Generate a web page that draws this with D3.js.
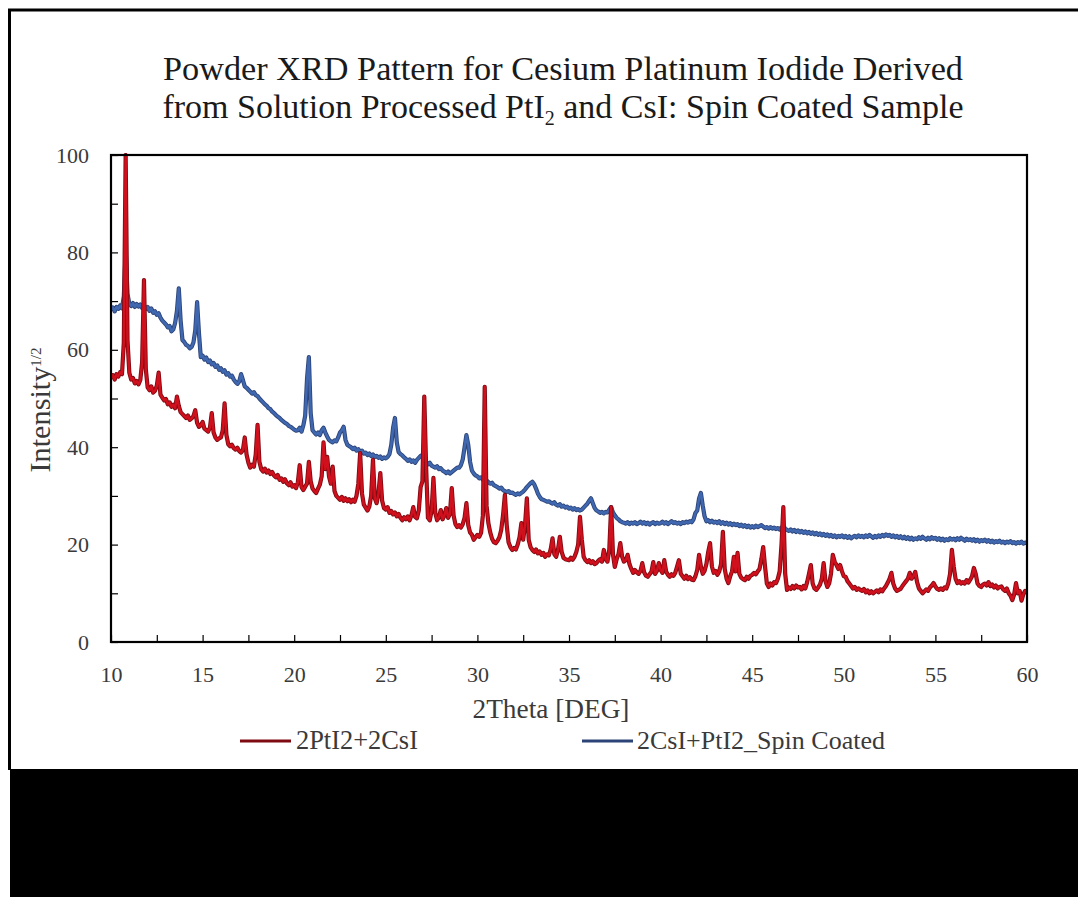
<!DOCTYPE html>
<html><head><meta charset="utf-8">
<script src="https://cdn.jsdelivr.net/npm/d3@7"></script>
<style>
body{margin:0;background:#fff;}
svg{display:block;}
text{font-family:"Liberation Serif","Times New Roman",serif;}
</style>
</head><body>
<svg id="chart" width="1078" height="897"></svg>
<script>
const titleLine1 = "Powder XRD Pattern for Cesium Platinum Iodide Derived";
const titleLine2 = ["from Solution Processed PtI", "2", " and CsI: Spin Coated Sample"];
const xAxisTitle = "2Theta [DEG]";
const yAxisTitle = ["Intensity", "1/2"];
const xTickLabels = [10, 15, 20, 25, 30, 35, 40, 45, 50, 55, 60];
const yTickLabels = [0, 20, 40, 60, 80, 100];
const seriesNames = ["2PtI2+2CsI", "2CsI+PtI2_Spin Coated"];
const seriesColors = ["#d0101c", "#4068b0"];
const seriesEdges = ["#7e0a12", "#2c4478"];
const thetaStart = 10, thetaStep = 0.1;

// 2PtI2+2CsI, 2theta = 10.0 ... 60.0 step 0.1
const redValues = [
54.2,54.8,53.9,55.0,54.5,55.4,55.0,61.5,100,62.0,
55.3,53.9,54.2,53.1,53.6,52.9,53.8,57.5,74.3,56.0,
52.3,51.7,52.5,51.2,51.6,52.6,55.3,50.8,50.2,49.6,
49.9,48.8,49.2,48.3,48.7,48.0,50.4,48.5,47.2,46.8,
46.4,46.0,46.5,45.6,45.9,46.4,47.6,45.0,44.2,44.5,
45.2,43.8,43.5,43.2,44.0,47.0,43.0,42.0,41.5,41.8,
42.0,43.5,49.0,42.5,40.6,40.2,40.5,39.8,39.5,39.9,
39.2,38.9,39.4,42.0,38.5,36.8,35.8,36.4,36.0,38.5,
44.6,37.0,35.5,35.0,35.6,34.8,35.2,34.5,34.9,34.2,
33.8,34.3,33.3,33.6,32.9,33.4,32.6,32.2,32.8,31.9,
32.2,31.6,32.8,36.3,31.8,31.2,31.9,32.5,37.0,33.0,
31.5,31.0,30.6,31.5,32.3,34.0,41.0,35.5,38.0,34.0,
32.5,36.0,31.0,30.0,29.6,29.2,29.8,29.0,29.5,28.9,
29.3,28.7,29.2,28.8,30.0,32.5,38.8,30.5,28.2,27.6,
27.0,27.8,30.0,37.4,29.5,28.5,30.5,34.7,29.0,27.5,
27.2,27.7,26.5,26.9,26.2,26.6,25.8,26.3,25.5,25.0,
25.6,25.2,25.8,25.0,26.0,27.7,25.7,25.4,27.0,31.8,
33.0,50.4,36.0,25.5,25.0,27.0,33.7,26.5,25.0,25.6,
27.1,25.2,26.0,27.5,25.5,26.3,31.6,26.0,24.2,23.6,
24.0,23.5,24.2,25.5,28.5,24.0,22.5,22.0,21.0,21.5,
22.0,21.6,22.4,26.0,52.4,28.0,24.4,22.5,21.2,20.5,
20.3,20.8,21.5,23.0,26.0,30.2,24.0,20.5,19.5,18.9,
19.3,19.0,20.0,21.5,24.4,21.0,24.0,29.5,21.0,19.5,
18.9,18.5,19.0,18.2,18.6,17.9,18.3,17.5,18.0,17.8,
19.0,21.3,18.0,17.5,19.0,21.6,18.5,17.3,17.0,16.9,
16.8,17.3,16.9,17.5,18.5,20.0,25.7,21.0,17.5,16.8,
16.4,16.8,16.2,16.6,16.0,16.2,16.7,17.0,16.5,18.9,
17.0,16.5,19.0,27.7,18.0,15.4,17.0,18.0,20.3,17.5,
16.5,16.8,17.9,16.0,15.0,14.2,14.8,14.3,14.0,14.6,
16.2,14.3,13.6,13.4,13.9,14.4,16.4,14.0,14.6,16.2,
14.8,14.2,16.8,14.5,13.8,13.4,13.9,13.6,14.2,15.5,
16.8,14.0,13.5,13.0,13.6,12.9,13.3,12.8,12.7,13.5,
14.8,17.9,15.5,14.0,14.6,16.0,18.5,20.3,15.5,14.2,
14.6,13.8,14.5,16.0,22.6,15.0,13.0,12.1,13.5,14.5,
17.5,14.5,18.3,14.0,13.2,12.9,12.7,13.4,13.0,13.6,
13.8,14.2,13.9,14.5,15.0,17.0,19.5,15.5,12.0,11.3,
12.0,11.6,12.3,12.1,13.0,14.5,20.0,27.7,14.0,10.7,
11.2,10.9,11.5,11.0,11.6,11.2,11.3,10.8,11.5,11.0,
12.3,14.0,15.8,12.0,11.0,10.7,11.2,11.8,13.0,16.2,
12.5,11.3,12.0,14.0,17.9,16.5,15.8,15.0,15.8,14.5,
13.5,13.4,12.5,12.0,11.5,11.0,11.3,10.7,11.0,10.7,
10.5,10.9,10.2,10.6,10.0,10.4,10.0,10.3,10.6,10.2,
10.8,10.4,11.0,11.5,12.2,13.0,14.2,12.0,11.0,10.5,
10.7,10.9,11.5,12.0,12.5,13.0,14.2,13.0,13.5,14.4,
12.3,11.0,10.5,10.0,10.4,10.8,10.5,11.2,11.6,12.1,
11.4,10.9,10.7,11.0,10.7,11.2,11.0,12.0,14.0,18.9,
15.5,13.0,12.1,12.5,12.0,12.3,12.0,12.7,12.2,12.8,
13.5,15.2,14.0,12.0,11.5,11.3,11.8,12.0,11.6,12.3,
11.5,11.8,11.2,11.6,11.0,11.3,11.4,10.8,10.5,11.0,
10.0,9.5,8.6,9.8,12.1,10.0,10.5,8.5,9.8,10.5,
10.3];

// 2CsI+PtI2_Spin Coated, 2theta = 10.0 ... 60.0 step 0.1
const blueValues = [
68.2,68.7,67.9,68.8,68.4,69.1,68.5,71.0,80.5,71.5,
69.5,69.0,69.6,68.8,69.4,68.9,69.3,68.6,69.0,68.4,
68.8,68.0,68.5,67.6,67.9,67.2,67.5,66.6,66.0,65.6,
65.2,64.6,64.9,63.8,64.2,65.5,68.0,72.6,66.0,62.0,
61.6,61.0,60.8,60.3,60.6,61.5,64.0,69.8,63.5,58.5,
58.8,58.0,58.4,57.5,57.8,57.0,57.3,56.5,56.8,55.9,
56.2,55.5,55.8,54.9,55.2,54.5,54.7,53.9,53.4,53.0,
53.5,55.0,53.8,52.5,52.2,51.8,51.4,51.0,51.3,50.7,
50.5,50.0,49.6,49.2,48.8,48.5,48.0,47.8,47.3,47.0,
46.6,46.3,46.0,45.6,45.3,45.0,44.8,44.4,44.2,43.9,
43.6,43.4,43.5,44.0,43.2,44.5,46.5,54.0,58.5,47.0,
43.5,43.0,42.6,43.0,42.5,43.5,44.0,43.0,42.2,41.5,
41.2,41.0,41.4,41.2,42.0,43.0,43.5,44.2,41.5,40.5,
40.2,40.0,39.6,39.9,39.3,39.6,39.0,39.3,38.7,38.9,
38.4,38.7,38.2,38.5,38.0,38.2,37.8,38.1,37.6,37.9,
37.7,38.0,38.6,40.5,44.0,46.0,41.0,39.0,38.6,38.3,
37.9,37.6,37.2,37.5,37.0,37.3,36.8,37.4,37.8,38.2,
38.4,38.0,37.0,36.5,36.8,36.2,36.0,35.8,36.1,35.5,
35.7,35.2,35.0,34.7,35.0,34.6,34.9,35.2,35.5,35.8,
35.8,36.3,37.5,40.0,42.5,40.5,37.0,35.2,34.6,34.2,
34.0,33.6,33.8,33.3,33.0,33.2,32.8,32.5,32.7,32.2,
32.0,31.8,31.5,31.7,31.2,31.0,30.8,31.0,30.6,30.7,
30.4,30.2,30.5,30.3,30.6,30.9,31.3,31.8,32.2,32.6,
32.9,32.4,31.5,30.5,29.8,29.3,29.2,29.0,28.8,28.9,
28.6,28.4,28.7,28.2,28.0,28.3,27.8,28.0,27.6,27.8,
27.4,27.6,27.2,27.5,27.1,27.3,27.0,27.2,27.6,28.0,
28.4,29.0,29.5,28.5,27.5,27.0,26.8,26.5,26.7,26.4,
26.7,26.6,27.2,27.7,26.6,26.0,25.5,25.2,24.8,24.6,
24.5,24.3,24.6,24.2,24.5,24.3,24.6,24.2,24.4,24.7,
24.3,24.6,24.2,24.5,24.1,24.4,24.6,24.2,24.5,24.3,
24.4,24.7,24.3,24.6,24.2,24.5,24.8,24.4,24.6,24.3,
24.5,24.2,24.6,24.4,24.7,24.5,24.8,24.6,25.2,26.5,
27.0,29.5,30.6,28.0,25.8,24.8,25.0,24.6,24.9,24.5,
24.7,24.4,24.8,24.3,24.6,24.2,24.5,24.1,24.4,24.0,
24.3,24.0,24.2,23.8,24.1,23.7,24.0,23.6,23.9,23.5,
23.8,23.5,23.9,23.6,23.8,24.0,23.7,23.4,23.6,23.3,
23.6,23.3,23.5,23.2,23.4,23.1,23.5,23.8,23.3,23.0,
22.8,23.1,22.7,23.0,22.6,22.9,22.5,22.8,22.4,22.7,
22.3,22.6,22.2,22.5,22.1,22.4,22.0,22.3,21.9,22.2,
21.8,22.1,21.7,22.0,21.6,21.9,21.5,21.8,21.6,21.9,
21.5,21.8,21.4,21.7,21.3,21.6,21.8,21.5,21.9,21.6,
21.8,21.5,21.9,21.6,22.0,21.7,21.4,21.8,21.5,21.9,
21.6,22.0,21.7,22.1,21.8,22.0,21.6,21.9,21.5,21.8,
21.4,21.7,21.3,21.6,21.2,21.5,21.1,21.4,21.0,21.3,
21.1,21.5,21.2,21.6,21.3,21.0,21.4,21.1,21.5,21.2,
21.4,21.0,21.3,20.9,21.2,20.8,21.1,20.9,21.3,21.0,
21.2,20.9,21.3,21.0,21.4,21.1,20.8,21.2,20.9,21.1,
20.8,21.1,20.7,21.0,20.6,20.9,20.7,21.0,20.6,20.9,
20.5,20.8,20.4,20.7,20.5,20.8,20.4,20.6,20.3,20.6,
20.4,20.7,20.3,20.5,20.2,20.5,20.3,20.6,20.2,20.4,
20.3];

const svg = d3.select("#chart");
const W = 1078, H = 897;
const plot = {left: 111, top: 155, right: 1027, bottom: 642};

// page frame
svg.append("rect").attr("x", 0).attr("y", 0).attr("width", W).attr("height", H).attr("fill", "#fff");
svg.append("line").attr("x1", 8).attr("x2", W).attr("y1", 10).attr("y2", 10).attr("stroke", "#000").attr("stroke-width", 3);
svg.append("line").attr("x1", 9.5).attr("x2", 9.5).attr("y1", 9).attr("y2", 770).attr("stroke", "#000").attr("stroke-width", 3);
svg.append("rect").attr("x", 10).attr("y", 769).attr("width", W - 10).attr("height", H - 769).attr("fill", "#000");

const x = d3.scaleLinear().domain([10, 60]).range([plot.left, plot.right]);
const y = d3.scaleLinear().domain([0, 100]).range([plot.bottom, plot.top]);

const xAxis = d3.axisBottom(x)
  .tickValues(d3.range(10, 60.01, 2.5))
  .tickSizeInner(-7).tickSizeOuter(0).tickPadding(24)
  .tickFormat(d => xTickLabels.includes(d) ? d : "");
const gx = svg.append("g").attr("transform", `translate(0,${plot.bottom})`).call(xAxis);
gx.select(".domain").remove();
gx.selectAll("line").attr("stroke", "#000").attr("stroke-width", 1.2);
gx.selectAll("text").attr("font-size", 22).attr("fill", "#3a3a3a")
  .attr("font-family", "Liberation Serif, serif");

const yAxis = d3.axisLeft(y)
  .tickValues(d3.range(0, 100.01, 10))
  .tickSizeInner(-7).tickSizeOuter(0).tickPadding(22)
  .tickFormat(d => yTickLabels.includes(d) ? d : "");
const gy = svg.append("g").attr("transform", `translate(${plot.left},0)`).call(yAxis);
gy.select(".domain").remove();
gy.selectAll("line").attr("stroke", "#000").attr("stroke-width", 1.2);
gy.selectAll("text").attr("font-size", 22).attr("fill", "#3a3a3a")
  .attr("font-family", "Liberation Serif, serif");

const line = d3.line()
  .x((d, i) => x(thetaStart + i * thetaStep))
  .y(d => y(d))
  .curve(d3.curveLinear);

svg.append("clipPath").attr("id", "pc").append("rect")
  .attr("x", plot.left).attr("y", plot.top - 2)
  .attr("width", plot.right - plot.left).attr("height", plot.bottom - plot.top + 2);

const gLines = svg.append("g").attr("clip-path", "url(#pc)");
[[blueValues, 1], [redValues, 0]].forEach(([vals, k]) => {
  gLines.append("path").datum(vals).attr("d", line)
    .attr("fill", "none").attr("stroke", seriesEdges[k]).attr("stroke-width", 4.2)
    .attr("stroke-linejoin", "round");
  gLines.append("path").datum(vals).attr("d", line)
    .attr("fill", "none").attr("stroke", seriesColors[k]).attr("stroke-width", 2.5)
    .attr("stroke-linejoin", "round");
});

svg.append("rect").attr("x", plot.left).attr("y", plot.top)
  .attr("width", plot.right - plot.left).attr("height", plot.bottom - plot.top)
  .attr("fill", "none").attr("stroke", "#000").attr("stroke-width", 2.2);

function fit(sel, target) {
  const len = sel.node().getComputedTextLength();
  const fs = parseFloat(sel.attr("font-size"));
  sel.attr("font-size", fs * target / len);
}

const t1 = svg.append("text").attr("x", 563).attr("y", 80).attr("text-anchor", "middle")
  .attr("font-size", 32).attr("fill", "#1a1a1a").text(titleLine1);
fit(t1, 800);
const t2 = svg.append("text").attr("x", 563).attr("y", 118).attr("text-anchor", "middle")
  .attr("font-size", 32).attr("fill", "#1a1a1a");
t2.append("tspan").text(titleLine2[0]);
t2.append("tspan").attr("dy", 7).attr("font-size", 20).text(titleLine2[1]);
t2.append("tspan").attr("dy", -7).text(titleLine2[2]);
fit(t2, 802);

const xt = svg.append("text").attr("x", 551).attr("y", 718).attr("text-anchor", "middle")
  .attr("font-size", 22).attr("fill", "#3a3a3a").text(xAxisTitle);
fit(xt, 157);

const yt = svg.append("text").attr("transform", "translate(50,410) rotate(-90)")
  .attr("text-anchor", "middle").attr("font-size", 24).attr("fill", "#3a3a3a");
yt.append("tspan").text(yAxisTitle[0]);
yt.append("tspan").attr("dy", -9).attr("font-size", 15).text(yAxisTitle[1]);
fit(yt, 130);

const legend = [
  {x1: 240, x2: 291, tx: 296, w: 122, k: 0},
  {x1: 582, x2: 633, tx: 637, w: 248, k: 1}
];
legend.forEach(l => {
  svg.append("line").attr("x1", l.x1).attr("x2", l.x2).attr("y1", 741).attr("y2", 741)
    .attr("stroke", seriesEdges[l.k]).attr("stroke-width", 3);
  const lt = svg.append("text").attr("x", l.tx).attr("y", 749).attr("font-size", 22)
    .attr("fill", "#3a3a3a").text(seriesNames[l.k]);
  fit(lt, l.w);
});
</script>
</body></html>
